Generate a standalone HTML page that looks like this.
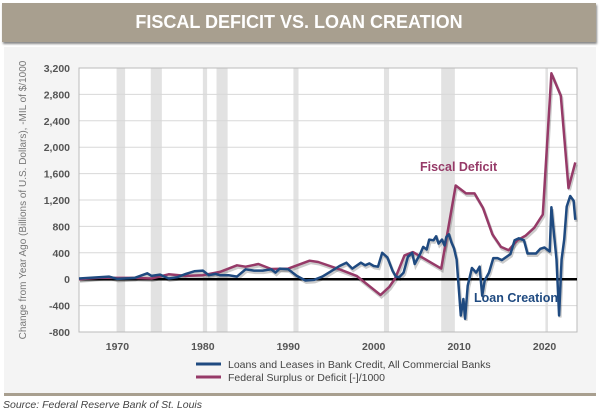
<!DOCTYPE html>
<html><head><meta charset="utf-8">
<style>
body{margin:0;width:600px;height:412px;background:#fff;font-family:"Liberation Sans",sans-serif;overflow:hidden;position:relative}
#title{position:absolute;left:2px;top:3px;width:594px;height:39px;background:#a89f8f;box-shadow:1px 2px 2px #888;color:#fff;font-weight:bold;font-size:18px;text-align:center;line-height:39px}
#panel{position:absolute;left:4px;top:47px;width:592px;height:346px;background:#f4f4f4}
#rule{position:absolute;left:4px;top:393px;width:592px;height:3px;background:#a89f8f}
#src{position:absolute;left:3px;top:399px;font-size:10.5px;font-style:italic;color:#444}
svg{position:absolute;left:0;top:0}
</style></head><body>
<div id="title">FISCAL DEFICIT VS. LOAN CREATION</div>
<div id="panel"></div>
<div id="rule"></div>
<div id="src">Source: Federal Reserve Bank of St. Louis</div>
<svg id="chart" width="600" height="412"></svg>
<script>
const yTicks=[-800,-400,0,400,800,1200,1600,2000,2400,2800,3200];
const xTicks=[1970,1980,1990,2000,2010,2020];
const recessions=[[1969.9,1970.9],[1973.9,1975.2],[1980.0,1980.5],[1981.6,1982.9],[1990.6,1991.2],[2001.2,2001.8],[2007.9,2009.5],[2020.1,2020.4]];
const fiscalYears=[1965.5,1968,1970,1972,1974,1976,1978,1980,1982,1984,1985,1986.5,1988,1990,1992.5,1993.5,1996,1998,2000.8,2001.8,2002.5,2003.6,2004.6,2007.9,2009.6,2010.8,2011.8,2012.8,2013.9,2014.9,2015.8,2016.8,2017.8,2018.8,2019.8,2020.8,2021.9,2022.8,2023.6];
const fiscalValues=[0,25,20,20,10,75,50,60,110,210,190,230,155,160,280,260,150,50,-240,-120,10,360,410,160,1420,1300,1300,1080,680,490,440,590,660,780,980,3120,2780,1380,1770];
const loanYears=[1965.5,1969,1970,1972,1973.5,1974,1975,1976,1977,1978,1979,1980,1980.7,1981.5,1982,1983,1984,1985,1986,1987,1988,1988.5,1989,1990,1991,1992,1993,1994,1995,1996,1996.8,1997.5,1998.5,1999,1999.5,2000,2000.5,2001,2001.6,2002.2,2002.6,2003,2003.5,2004,2004.5,2004.8,2005.5,2005.8,2006.2,2006.5,2007,2007.3,2007.6,2008,2008.3,2008.5,2008.8,2009.1,2009.4,2009.7,2010,2010.2,2010.5,2010.7,2011,2011.5,2012,2012.4,2012.7,2013,2013.5,2014,2014.5,2015,2016,2016.5,2017,2017.6,2018,2019,2019.5,2020,2020.3,2020.6,2020.8,2021.1,2021.4,2021.7,2022,2022.3,2022.6,2023,2023.4,2023.6];
const loanValues=[10,40,5,20,90,50,70,10,30,80,120,130,60,80,60,60,40,150,130,130,150,100,160,150,50,-20,-10,40,120,200,250,160,250,210,240,200,190,400,330,130,40,30,100,340,400,230,400,490,450,600,590,650,540,600,510,640,680,560,470,300,-200,-550,-300,-600,-100,170,100,190,-250,-20,100,320,320,290,380,590,620,590,390,390,460,480,450,420,1090,700,300,-550,300,600,1100,1260,1190,900];

const L=79,R=577,T=68,B=332,X0=1965.5,X1=2023.8,Y0=-800,Y1=3200;
const xs=v=>L+(v-X0)/(X1-X0)*(R-L);
const ys=v=>B-(v-Y0)/(Y1-Y0)*(B-T);
const svg=document.getElementById('chart');
const NS='http://www.w3.org/2000/svg';
function mk(tag,attrs,parent){const e=document.createElementNS(NS,tag);for(const k in attrs)e.setAttribute(k,attrs[k]);(parent||svg).appendChild(e);return e;}
const bg=mk('rect',{x:L,y:T,width:R-L,height:B-T,fill:'#fff'});


recessions.forEach(r=>{const e=mk('rect',{x:xs(r[0]),y:T,width:xs(r[1])-xs(r[0]),height:B-T,fill:'#e2e2e2'});

});
yTicks.forEach(t=>{const g=mk('line',{x1:L,x2:R,y1:ys(t),y2:ys(t),stroke:'#d8d8d8','stroke-width':1});


const tx=mk('text',{x:70,y:ys(t)+4,'text-anchor':'end','font-size':10.5,'font-weight':'bold',fill:'#555'});tx.textContent=t.toLocaleString('en-US');

});
xTicks.forEach(t=>{const tx=mk('text',{x:xs(t),y:350,'text-anchor':'middle','font-size':10.5,'font-weight':'bold',fill:'#555'});tx.textContent=t;

});
const fr=mk('rect',{x:L,y:T,width:R-L,height:B-T,fill:'none',stroke:'#bbb'});


const zl=mk('line',{x1:L,x2:R,y1:ys(0),y2:ys(0),stroke:'#000','stroke-width':2.5});


function pts(xa,ya){return xa.map((x,i)=>xs(x).toFixed(1)+','+ys(ya[i]).toFixed(1)).join(' ');}
const fs=mk('polyline',{points:pts(fiscalYears,fiscalValues),fill:'none',stroke:'rgba(0,0,0,0.2)','stroke-width':3,transform:'translate(1,2)'});


const ls=mk('polyline',{points:pts(loanYears,loanValues),fill:'none',stroke:'rgba(0,0,0,0.2)','stroke-width':3,transform:'translate(1,2)'});


const fl=mk('polyline',{points:pts(fiscalYears,fiscalValues),fill:'none',stroke:'#963a68','stroke-width':2.5,'stroke-linejoin':'round'});


const ll=mk('polyline',{points:pts(loanYears,loanValues),fill:'none',stroke:'#1f4a80','stroke-width':2.5,'stroke-linejoin':'round'});


const a1=mk('text',{x:420,y:171,'text-anchor':'start','font-size':12.5,'font-weight':'bold',fill:'#963a68'});a1.textContent='Fiscal Deficit';


const a2=mk('text',{x:474,y:302,'font-size':12.5,'font-weight':'bold',fill:'#1f4a80'});a2.textContent='Loan Creation';


const yt=mk('text',{x:0,y:0,'text-anchor':'middle','font-size':10,fill:'#777',transform:'translate(26,200) rotate(-90)'});yt.textContent='Change from Year Ago (Billions of U.S. Dollars), -MIL of $/1000';


[['Loans and Leases in Bank Credit, All Commercial Banks','#1f4a80',368],['Federal Surplus or Deficit [-]/1000','#963a68',381]].forEach(d=>{
const g=mk('g',{});


mk('line',{x1:196,x2:221,y1:d[2]-4,y2:d[2]-4,stroke:d[1],'stroke-width':3},g);
const t=mk('text',{x:228,y:d[2],'font-size':10.5,fill:'#444'},g);t.textContent=d[0];});
</script>
</body></html>
